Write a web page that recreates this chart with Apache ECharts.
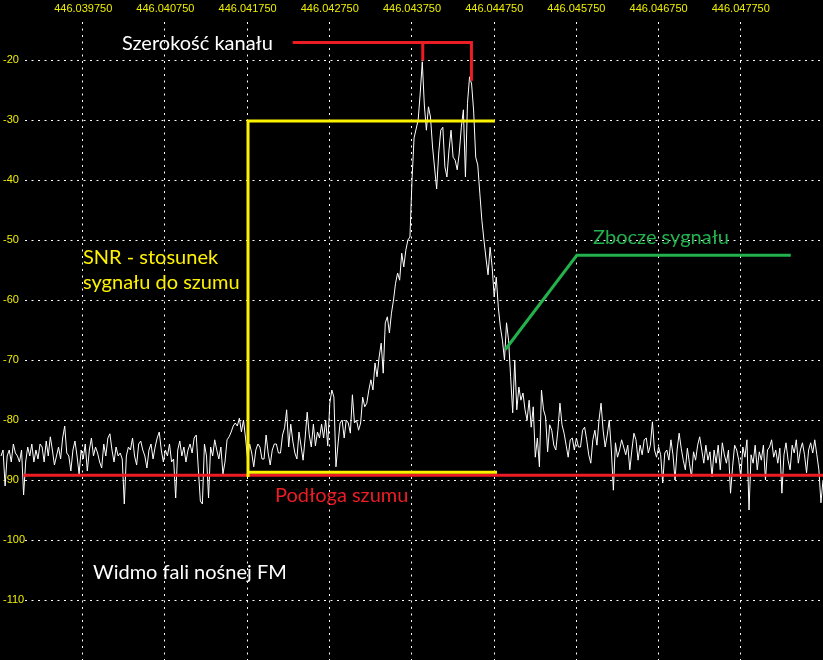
<!DOCTYPE html>
<html><head><meta charset="utf-8">
<script src="https://cdn.jsdelivr.net/npm/echarts@6/dist/echarts.min.js"></script>
<style>html,body{margin:0;padding:0;background:#000;}#c{width:823px;height:660px;}</style>
</head><body><div id="c"></div>
<script>
// Frequency axis: Hz offset from 446.039750 MHz
const xTickHz = [0, 1000, 2000, 3000, 4000, 5000, 6000, 7000, 8000];
const xTickLabels = ['446.039750','446.040750','446.041750','446.042750','446.043750','446.044750','446.045750','446.046750','446.047750'];
const freqStartHz = -1000;
const freqStepHz = 25;
// Spectrum level in dBm, one value per frequency bin
const level = [
-86,-85,-91,-86,-85,-87,-84,-85.5,-86,-87,-85,-92.5,-87,-84.5,-86,-84,-87,-85,-86.5,-84,
-84.5,-87,-83.5,-86,-82.8,-85,-87.5,-86,-84.5,-86.5,-83,-81,-85.5,-86,-88.5,-85,-83.5,-86,-89,-85,
-86.5,-84,-88.5,-85,-83,-86,-84.5,-85.5,-87,-88,-84,-86,-83,-82.3,-85,-87,-84.5,-86,-85.5,-86.5,
-94,-86,-84.5,-85,-83,-86,-87.5,-84,-83.5,-85,-86,-88,-85,-84,-86.5,-84.5,-83,-82,-85,-87,
-85,-86,-84,-87,-86.5,-93,-85,-83.5,-86,-84.5,-87,-85,-84,-85.5,-83,-82.5,-88,-93.5,-94,-84,
-86,-93,-84.5,-86,-83.3,-85,-86.5,-84.5,-89,-87,-83.3,-82.8,-82,-81,-80.5,-81,-79.7,-82,-80,-83,
-86.5,-84,-85.5,-87.8,-85,-84,-84.5,-86.5,-86.5,-82.5,-85.5,-87.5,-85,-84,-84,-85.5,-85.5,-82.5,-81.3,-78.3,
-84.5,-80.7,-83.5,-85.5,-86.5,-82,-84.3,-86.7,-83,-78.7,-82.5,-84.5,-80.7,-84.3,-82,-83,-80.7,-83,-80,-84.3,
-77.2,-75,-76.2,-87.8,-84,-80.5,-80,-83,-80,-80.5,-82.2,-75.8,-80.5,-80,-81.7,-80.5,-76.2,-77.8,-77.2,-75,
-73.3,-75,-70.5,-72.8,-69.5,-67.2,-72.2,-63.8,-62.8,-65.5,-62.2,-60,-57.2,-55.5,-56.7,-52.2,-54.5,-51.7,-50,-49.5,
-40,-33,-31.5,-30,-25.5,-20.3,-27.5,-31.7,-27.8,-29.5,-34.5,-38,-41.5,-35.5,-31.7,-31.2,-37.8,-39.5,-35,-31.7,
-36.2,-36.7,-38.3,-35.5,-31.2,-28.3,-39.5,-27.2,-22.8,-24,-28.5,-36.2,-37.5,-42.2,-46.7,-50,-53,-55.8,-51.2,-54.5,
-59.5,-56.2,-61.2,-64.5,-66.7,-70,-63.8,-66.7,-72.8,-78.8,-70,-78.3,-74.5,-76.7,-75.5,-78.3,-80,-76.7,-81.2,-77.8,
-86.2,-83,-87.8,-75,-78.3,-79.5,-85.3,-80.8,-81.7,-84.2,-85,-81.7,-77.2,-80.8,-82.2,-84.2,-86.2,-83.3,-83,-85,
-83,-84.5,-84.5,-81.7,-81.2,-83.3,-85.8,-87.2,-83.3,-81.7,-84.2,-80,-77.2,-81.7,-84.5,-82.5,-80,-85,-91.7,-83.8,
-86.2,-85,-83.3,-84.5,-85.8,-84.2,-88.3,-85,-82.2,-83.3,-86.7,-84.2,-85.8,-83.3,-83,-85.5,-84.2,-80.3,-85,-86.2,
-84.5,-85.8,-90.5,-85.5,-85,-86.7,-83.3,-85.8,-90,-85,-82.2,-84.7,-86.7,-88.3,-84.7,-87.2,-89.5,-85.3,-86.7,-84.2,
-82.8,-85,-87.2,-84.2,-86.7,-85.3,-89.5,-85,-87.2,-84.2,-88.3,-83.8,-85.8,-87.2,-85,-92.2,-87.8,-84.2,-85,-86.7,
-89.5,-84.5,-86.2,-83.3,-95,-85.8,-87.2,-84.2,-88.3,-85.3,-86.7,-84.2,-90,-85,-84.5,-83.3,-86.2,-85,-87.2,-84.7,
-92.2,-85.8,-83.8,-86.7,-88.3,-84.2,-85.5,-83.3,-87.2,-85,-83.8,-85.8,-88.8,-85,-83.8,-85.5,-83.3,-85.8,-88.3,-93.8,-90
];
// Annotation shapes in data coordinates [Hz offset, dBm]
const noiseFloor = [[-729, -89.22], [9000, -89.22]];
const snrBoxTop = [[5010, -30.17], [2005, -30.17], [2005, -89.5]];
const snrBoxBottom = [[2005, -88.72], [5035, -88.72]];
const channelBracket = [[2548, -17.1], [4723, -17.1], [4723, -23.45]];
const channelPeakTick = [[4131, -17.1], [4131, -20.1]];
const slopeLine = [[5136, -68.25], [6005, -52.55], [8608, -52.55]];
// Annotation texts
const txtChannel = 'Szerokość kanału';
const txtSnr1 = 'SNR - stosunek';
const txtSnr2 = 'sygnału do szumu';
const txtSlope = 'Zbocze sygnału';
const txtFloor = 'Podłoga szumu';
const txtTitle = 'Widmo fali nośnej FM';

const RED = '#ed1c24', YEL = '#fff200', GRN = '#22b14c', LBL = '#eeee00';
const X_MIN = -1000, X_MAX = 9000, Y_MIN = -120, Y_MAX = -10;
const dash = {type: [2, 4.5], color: '#ffffff', width: 1};
const spectrum = level.map((v, i) => [freqStartHz + i * freqStepHz, v]);

function annot(data, color) {
  return {type: 'line', xAxisIndex: 0, yAxisIndex: 0, data: data, symbol: 'none', silent: true, z: 5,
    lineStyle: {color: color, width: 3, cap: 'butt', join: 'miter'}};
}
const chart = echarts.init(document.getElementById('c'));
chart.setOption({
  backgroundColor: '#000',
  animation: false,
  grid: [
    {left: 0, right: 0, top: 0, bottom: 0},
    {left: 25, right: 0, top: 0, bottom: 0},
    {left: 0, right: 0, top: 22, bottom: 0}
  ],
  xAxis: [
    {gridIndex: 0, type: 'value', min: X_MIN, max: X_MAX, interval: 1000, position: 'top',
      axisLine: {show: false}, axisTick: {show: false}, splitLine: {show: false},
      axisLabel: {inside: true, margin: 3, color: LBL, fontFamily: 'Liberation Sans', fontSize: 11,
        showMinLabel: false, showMaxLabel: false,
        formatter: v => { const k = xTickHz.indexOf(v); return k >= 0 ? xTickLabels[k] : ''; }}},
    {gridIndex: 1, type: 'value', min: X_MIN, max: X_MAX, show: false},
    {gridIndex: 2, type: 'value', min: X_MIN, max: X_MAX, interval: 1000,
      axisLine: {show: false}, axisTick: {show: false}, axisLabel: {show: false},
      splitLine: {show: true, showMinLine: false, showMaxLine: false, lineStyle: dash}}
  ],
  yAxis: [
    {gridIndex: 0, type: 'value', min: Y_MIN, max: Y_MAX, interval: 10,
      axisLine: {show: false}, axisTick: {show: false}, splitLine: {show: false},
      axisLabel: {inside: true, margin: 2, color: LBL, fontFamily: 'Liberation Sans', fontSize: 11,
        showMinLabel: false, showMaxLabel: false}},
    {gridIndex: 1, type: 'value', min: Y_MIN, max: Y_MAX, interval: 10,
      axisLine: {show: false}, axisTick: {show: false}, axisLabel: {show: false},
      splitLine: {show: true, showMinLine: false, showMaxLine: false, lineStyle: dash}},
    {gridIndex: 2, type: 'value', min: Y_MIN, max: Y_MAX, show: false}
  ],
  series: [
    {type: 'line', xAxisIndex: 0, yAxisIndex: 0, data: spectrum, symbol: 'none', silent: true, z: 3,
      lineStyle: {color: '#ffffff', width: 1}},
    annot(noiseFloor, RED),
    annot(snrBoxTop, YEL),
    annot(snrBoxBottom, YEL),
    annot(channelBracket, RED),
    annot(channelPeakTick, RED),
    annot(slopeLine, GRN)
  ],
  graphic: [
    {type: 'text', x: 122, y: 43.5, z: 100, style: {text: txtChannel, fill: '#ffffff', font: '20px Lato', verticalAlign: 'middle'}},
    {type: 'text', x: 83, y: 257.5, z: 100, style: {text: txtSnr1, fill: YEL, font: '20px Lato', verticalAlign: 'middle'}},
    {type: 'text', x: 83, y: 283, z: 100, style: {text: txtSnr2, fill: YEL, font: '20px Lato', verticalAlign: 'middle'}},
    {type: 'text', x: 593, y: 238, z: 100, style: {text: txtSlope, fill: GRN, font: '20px Lato', verticalAlign: 'middle'}},
    {type: 'text', x: 275, y: 495.5, z: 100, style: {text: txtFloor, fill: RED, font: '20px Lato', verticalAlign: 'middle'}},
    {type: 'text', x: 93, y: 572.5, z: 100, style: {text: txtTitle, fill: '#ffffff', font: '20px Lato', verticalAlign: 'middle'}}
  ]
});
</script></body></html>
